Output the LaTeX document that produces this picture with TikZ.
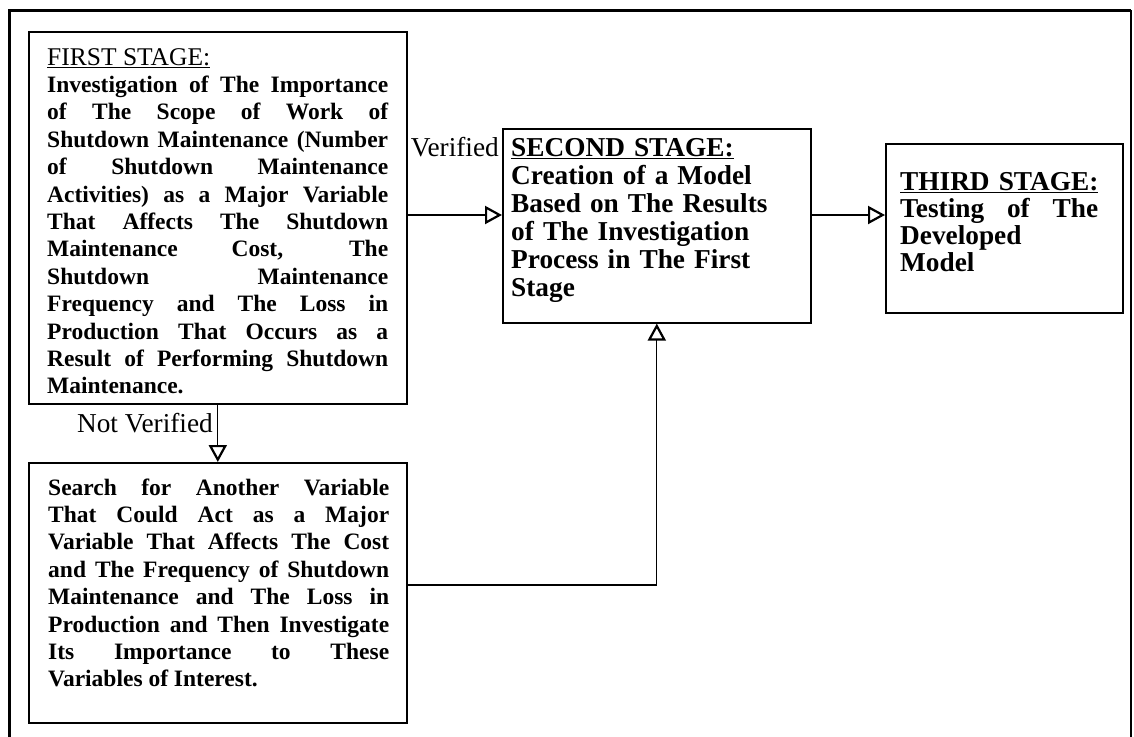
\documentclass[tikz,border=0pt]{standalone}
\usepackage{fontspec}
\setmainfont{Liberation Serif}
\usetikzlibrary{arrows.meta}
\setlength\parindent{0pt}
\tolerance=10000
\hbadness=10000
\hfuzz=10pt
\begin{document}
\begin{tikzpicture}[x=1pt,y=-1pt,
  stagebox/.style={draw, line width=1.6pt, rectangle, inner sep=0pt, anchor=north west},
  smalltext/.style={anchor=base west, inner sep=0pt,
    font=\fontsize{23.5}{27.4}\selectfont\bfseries, align=justify},
  bigtext/.style={anchor=base west, inner sep=0pt,
    font=\fontsize{27.3}{28}\selectfont\bfseries, align=left},
  flowlabel/.style={inner sep=0pt, font=\fontsize{27.3}{30}\selectfont},
  arr/.style={line width=1.2pt,
    -{Triangle[open, length=17pt, width=18pt, line width=2.2pt]}}]
\useasboundingbox (0,0) rectangle (1134,736);

% outer frame, open at the bottom
\begin{scope}
  \clip (0,0) rectangle (1134,736);
  \draw[line width=3pt] (9,760) -- (9,10) -- (1131,10);
  \draw[line width=2.2pt] (1131,10) -- (1131,760);
\end{scope}

% stage boxes
\node[stagebox, minimum width=378pt, minimum height=372pt] (s1) at (28,31) {};
\node[stagebox, minimum width=308pt, minimum height=194pt] (s2) at (502,128) {};
\node[stagebox, minimum width=237pt, minimum height=169pt] (s3) at (885,143) {};
\node[stagebox, minimum width=378pt, minimum height=260pt] (alt) at (28,462) {};

% box texts
\node[smalltext, text width=341pt] (s1t) at (47,65)
  {{\fontsize{25.5}{27.4}\mdseries\underline{FIRST STAGE:}}\\
   Investigation of The Importance\linebreak
   of The Scope of Work of\linebreak
   Shutdown Maintenance (Number\linebreak
   of Shutdown Maintenance\linebreak
   Activities) as a Major Variable\linebreak
   That Affects The Shutdown\linebreak
   Maintenance Cost, The\linebreak
   Shutdown Maintenance\linebreak
   Frequency and The Loss in\linebreak
   Production That Occurs as a\linebreak
   Result of Performing Shutdown\linebreak
   Maintenance.};

\node[bigtext, text width=290pt] (s2t) at (511,156)
  {\underline{SECOND STAGE:}\\
   Creation of a Model\\
   Based on The Results\\
   of The Investigation\\
   Process in The First\\
   Stage};

\node[bigtext, text width=198pt, font=\fontsize{27.3}{27.3}\selectfont\bfseries] (s3t) at (900,190)
  {\underline{THIRD STAGE:}\\
   Testing\hfill of\hfill The\\
   Developed\\
   Model};

\node[smalltext, text width=341pt] (altt) at (48,495)
  {Search for Another Variable\linebreak
   That Could Act as a Major\linebreak
   Variable That Affects The Cost\linebreak
   and The Frequency of Shutdown\linebreak
   Maintenance and The Loss in\linebreak
   Production and Then Investigate\linebreak
   Its Importance to These\linebreak
   Variables of Interest.};

% connector levels
\coordinate (vy) at (0,215);
\coordinate (ay) at (0,585);

% connectors
\draw[arr] (s1.east |- vy) -- (s2.west |- vy);
\draw[arr] (s2.east |- vy) -- (s3.west |- vy);
\draw[arr] (s1.south) -- (alt.north);
\draw[arr] (alt.east |- ay) -| (s2.south);

% connector labels
\node[flowlabel, anchor=base east] (lv) at (499,156) {Verified};
\node[flowlabel, anchor=base east] (lnv) at (213,432) {Not Verified};
\end{tikzpicture}
\end{document}
